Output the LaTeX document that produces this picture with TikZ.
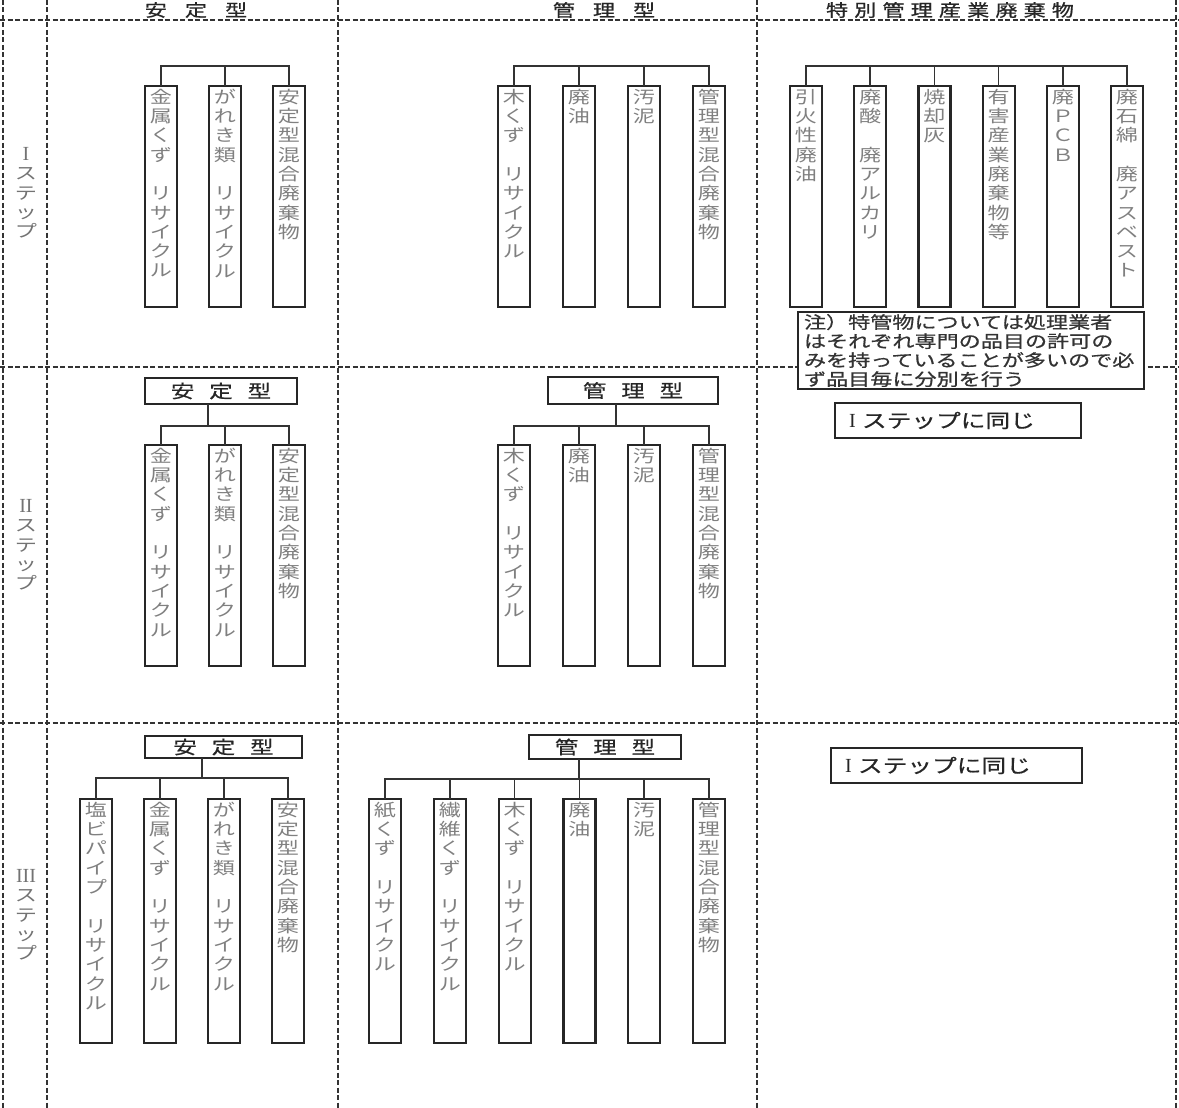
\documentclass[tikz,border=0pt]{standalone}
\usepackage{fontspec}
\setmainfont{Noto Sans CJK JP}[FakeStretch=1.3]
\newfontfamily\gothic{Noto Sans CJK JP}[FakeStretch=1.3, FakeBold=0.7]
\newfontfamily\latinfont{Liberation Serif}
\usetikzlibrary{positioning}

\newcommand\tate[2][215pt]{\parbox[c][#1][t]{30pt}{\centering #2}}
\newcommand\hgap[1][15pt]{\hspace{#1}}
\newcommand\rn[1]{{\latinfont\fontsize{20}{19.3}\selectfont #1}}

\begin{document}
\begin{tikzpicture}[
    x=1pt, y=-1pt,
    grid/.style={draw=black!80, line width=1.6pt, dash pattern=on 5pt off 2.5pt},
    wbox/.style={draw=black!85, line width=2.2pt, minimum width=32pt,
                 minimum height=221pt, inner sep=0pt, outer sep=0pt, text=black!50,
                 font=\fontsize{17}{19.3}\selectfont},
    tall/.style={minimum height=244pt},
    hdbox/.style={draw=black!85, line width=1.5pt, fill=white, inner sep=0pt,
                  outer sep=0pt, text=black!85, font=\gothic\fontsize{18}{18}\selectfont},
    samebox/.style={draw=black!85, line width=1.5pt, fill=white, anchor=north west,
                    minimum height=35pt, inner xsep=14pt, outer sep=0pt, align=left,
                    text=black!85, font=\gothic\fontsize{19}{19}\selectfont},
    notebox/.style={draw=black!85, line width=1.5pt, fill=white, anchor=north west,
                    inner xsep=6pt, inner ysep=2pt, outer sep=0pt, align=left,
                    text=black!80, font=\gothic\fontsize{17}{19}\selectfont},
    colhead/.style={text=black!85, inner sep=0pt, font=\gothic\fontsize{17}{17}\selectfont},
    rowhead/.style={align=center, text=black!55, font=\fontsize{17}{19.3}\selectfont},
    bus/.style={draw=black!80, line width=1.5pt}
]

\useasboundingbox (0,0) rectangle (1179,1108);

\foreach \x in {3,47,338,757,1176} \draw[grid] (\x,0) -- (\x,1108);
\foreach \y in {20,367,723} \draw[grid] (0,\y) -- (1179,\y);

\node[colhead] (h-stable) at (196,10) {安\hgap[18pt]定\hgap[18pt]型};
\node[colhead] (h-manage) at (604,10) {管\hgap[18pt]理\hgap[18pt]型};
\node[colhead] (h-special) at (950,10) {\addfontfeature{LetterSpace=36}特別管理産業廃棄物};

\node[rowhead] (r1) at (26,193) {\rn{I}\\ス\\テ\\ッ\\プ};
\node[rowhead] (r2) at (26,545) {\rn{II}\\ス\\テ\\ッ\\プ};
\node[rowhead] (r3) at (26,915) {\rn{III}\\ス\\テ\\ッ\\プ};

% step I
\node[wbox, anchor=north west] (s1a1) at (145,86) {\tate{金\\属\\く\\ず\\　\\リ\\サ\\イ\\ク\\ル}};
\node[wbox, right=32pt of s1a1] (s1a2) {\tate{が\\れ\\き\\類\\　\\リ\\サ\\イ\\ク\\ル}};
\node[wbox, right=32pt of s1a2] (s1a3) {\tate{安\\定\\型\\混\\合\\廃\\棄\\物}};

\coordinate (s1a-bus) at ([yshift=20pt]s1a2.north);
\foreach \b in {s1a1,s1a2,s1a3} \draw[bus] (s1a-bus) -| (\b.north);

\node[wbox, anchor=north west] (s1m1) at (498,86) {\tate{木\\く\\ず\\　\\リ\\サ\\イ\\ク\\ル}};
\node[wbox, right=33pt of s1m1] (s1m2) {\tate{廃\\油}};
\node[wbox, right=33pt of s1m2] (s1m3) {\tate{汚\\泥}};
\node[wbox, right=33pt of s1m3] (s1m4) {\tate{管\\理\\型\\混\\合\\廃\\棄\\物}};

\coordinate (s1m-bus) at ([yshift=20pt]s1m2.north);
\foreach \b in {s1m1,s1m2,s1m3,s1m4} \draw[bus] (s1m-bus) -| (\b.north);

\node[wbox, anchor=north west] (s1p1) at (790,86) {\tate{引\\火\\性\\廃\\油}};
\node[wbox, right=32.2pt of s1p1] (s1p2) {\tate{廃\\酸\\　\\廃\\ア\\ル\\カ\\リ}};
\node[wbox, right=32.2pt of s1p2] (s1p3) {\tate{焼\\却\\灰}};
\node[wbox, right=32.2pt of s1p3] (s1p4) {\tate{有\\害\\産\\業\\廃\\棄\\物\\等}};
\node[wbox, right=32.2pt of s1p4] (s1p5) {\tate{廃\\Ｐ\\Ｃ\\Ｂ}};
\node[wbox, right=32.2pt of s1p5] (s1p6) {\tate{廃\\石\\綿\\　\\廃\\ア\\ス\\ベ\\ス\\ト}};

\coordinate (s1p-bus) at ([yshift=20pt]s1p3.north);
\foreach \b in {s1p1,s1p2,s1p3,s1p4,s1p5,s1p6} \draw[bus] (s1p-bus) -| (\b.north);

\node[notebox, text width=334pt] (note) at (798,312)
    {注）特管物については処理業者\\はそれぞれ専門の品目の許可の\\みを持っていることが多いので必\\ず品目毎に分別を行う};

% step II
\node[hdbox, minimum width=152pt, minimum height=26pt] (s2a-hd) at (221,391) {安\hgap 定\hgap 型};

\node[wbox, anchor=north west] (s2a1) at (145,445) {\tate{金\\属\\く\\ず\\　\\リ\\サ\\イ\\ク\\ル}};
\node[wbox, right=32pt of s2a1] (s2a2) {\tate{が\\れ\\き\\類\\　\\リ\\サ\\イ\\ク\\ル}};
\node[wbox, right=32pt of s2a2] (s2a3) {\tate{安\\定\\型\\混\\合\\廃\\棄\\物}};

\coordinate (s2a-bus) at ([xshift=-13pt, yshift=-22pt]s2a-hd.south);
\draw[bus] (s2a-hd.south -| s2a-bus) -- (s2a-bus);
\foreach \b in {s2a1,s2a2,s2a3} \draw[bus] (s2a-bus) -| (\b.north);

\node[hdbox, minimum width=170pt, minimum height=27pt] (s2m-hd) at (633,390.5) {管\hgap 理\hgap 型};

\node[wbox, anchor=north west] (s2m1) at (498,445) {\tate{木\\く\\ず\\　\\リ\\サ\\イ\\ク\\ル}};
\node[wbox, right=33pt of s2m1] (s2m2) {\tate{廃\\油}};
\node[wbox, right=33pt of s2m2] (s2m3) {\tate{汚\\泥}};
\node[wbox, right=33pt of s2m3] (s2m4) {\tate{管\\理\\型\\混\\合\\廃\\棄\\物}};

\coordinate (s2m-bus) at ([xshift=-17pt, yshift=-22pt]s2m-hd.south);
\draw[bus] (s2m-hd.south -| s2m-bus) -- (s2m-bus);
\foreach \b in {s2m1,s2m2,s2m3,s2m4} \draw[bus] (s2m-bus) -| (\b.north);

\node[samebox, text width=218pt] (s2p) at (835,403) {\rn{I} ステップに同じ};

% step III
\node[hdbox, minimum width=157pt, minimum height=22pt] (s3a-hd) at (223.5,747) {安\hgap 定\hgap 型};

\node[wbox, tall, anchor=north west] (s3a1) at (80,799) {\tate[238pt]{塩\\ビ\\パ\\イ\\プ\\　\\リ\\サ\\イ\\ク\\ル}};
\node[wbox, tall, right=32pt of s3a1] (s3a2) {\tate[238pt]{金\\属\\く\\ず\\　\\リ\\サ\\イ\\ク\\ル}};
\node[wbox, tall, right=32pt of s3a2] (s3a3) {\tate[238pt]{が\\れ\\き\\類\\　\\リ\\サ\\イ\\ク\\ル}};
\node[wbox, tall, right=32pt of s3a3] (s3a4) {\tate[238pt]{安\\定\\型\\混\\合\\廃\\棄\\物}};

\coordinate (s3a-bus) at ([xshift=-21.5pt, yshift=-20pt]s3a-hd.south);
\draw[bus] (s3a-hd.south -| s3a-bus) -- (s3a-bus);
\foreach \b in {s3a1,s3a2,s3a3,s3a4} \draw[bus] (s3a-bus) -| (\b.north);

\node[hdbox, minimum width=152pt, minimum height=24pt] (s3m-hd) at (605,747) {管\hgap 理\hgap 型};

\node[wbox, tall, anchor=north west] (s3m1) at (369,799) {\tate[238pt]{紙\\く\\ず\\　\\リ\\サ\\イ\\ク\\ル}};
\node[wbox, tall, right=32.8pt of s3m1] (s3m2) {\tate[238pt]{繊\\維\\く\\ず\\　\\リ\\サ\\イ\\ク\\ル}};
\node[wbox, tall, right=32.8pt of s3m2] (s3m3) {\tate[238pt]{木\\く\\ず\\　\\リ\\サ\\イ\\ク\\ル}};
\node[wbox, tall, right=32.8pt of s3m3] (s3m4) {\tate[238pt]{廃\\油}};
\node[wbox, tall, right=32.8pt of s3m4] (s3m5) {\tate[238pt]{汚\\泥}};
\node[wbox, tall, right=32.8pt of s3m5] (s3m6) {\tate[238pt]{管\\理\\型\\混\\合\\廃\\棄\\物}};

\coordinate (s3m-bus) at ([xshift=-26pt, yshift=-20pt]s3m-hd.south);
\draw[bus] (s3m-hd.south -| s3m-bus) -- (s3m-bus);
\foreach \b in {s3m1,s3m2,s3m3,s3m4,s3m5,s3m6} \draw[bus] (s3m-bus) -| (\b.north);

\node[samebox, text width=223pt] (s3p) at (831,748) {\rn{I} ステップに同じ};

\end{tikzpicture}
\end{document}
